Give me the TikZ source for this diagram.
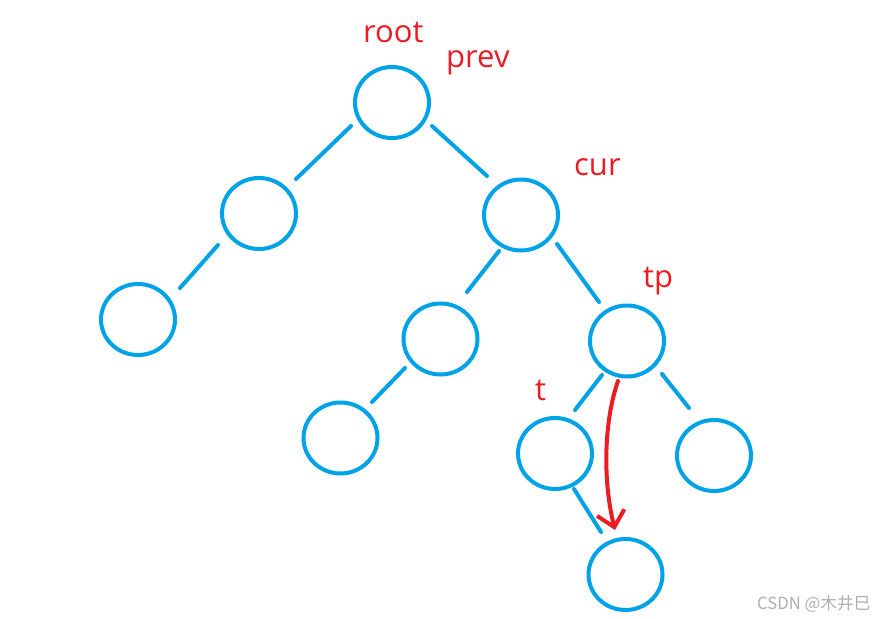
\documentclass[tikz,border=0pt]{standalone}
\usepackage{fontspec}
\setmainfont{Open Sans}
\newfontfamily\cjk{Noto Sans CJK SC}
\usetikzlibrary{shapes.geometric,arrows.meta,calc}
\definecolor{pblue}{RGB}{0,162,232}
\definecolor{pred}{RGB}{237,28,36}
\definecolor{wgray}{RGB}{175,175,175}
\tikzset{
  tnode/.style={ellipse,draw=pblue,line width=4pt,minimum width=74pt,minimum height=71pt,inner sep=0pt},
  edge/.style={draw=pblue,line width=4pt,line cap=round},
  lbl/.style={text=pred,anchor=base west,inner sep=0pt,font=\fontsize{31}{31}\selectfont},
  ptr/.style={draw=pred,line width=4pt,line cap=round,-{Straight Barb[length=15pt,width=28pt,line width=4pt]}}
}
\begin{document}
\begin{tikzpicture}[x=1pt,y=-1pt]
\useasboundingbox[fill=white] (0,0) rectangle (874,618);
\node[tnode] (root) at (392,102.5) {};
\node[tnode] (l) at (259,213.5) {};
\node[tnode] (ll) at (138,319.5) {};
\node[tnode] (cur) at (521,215) {};
\node[tnode] (cl) at (440.5,339) {};
\node[tnode] (cll) at (340.5,438) {};
\node[tnode] (tp) at (627,341) {};
\node[tnode] (t) at (555,453.5) {};
\node[tnode] (r) at (714,455.5) {};
\node[tnode] (b) at (625.5,574.5) {};
\draw[edge] ([shift={(-41,23.5)}]root.center) -- ([shift={(37,-34.5)}]l.center);
\draw[edge] ([shift={(40,23.5)}]root.center) -- ([shift={(-34,-39)}]cur.center);
\draw[edge] ([shift={(-41,31.5)}]l.center) -- ([shift={(42,-31.5)}]ll.center);
\draw[edge] ([shift={(-22,36)}]cur.center) -- ([shift={(26.5,-47)}]cl.center);
\draw[edge] ([shift={(36,29)}]cur.center) -- ([shift={(-28,-39)}]tp.center);
\draw[edge] ([shift={(-35.5,29)}]cl.center) -- ([shift={(31.5,-36)}]cll.center);
\draw[edge] ([shift={(-25,34)}]tp.center) -- ([shift={(20,-43.5)}]t.center);
\draw[edge] ([shift={(35,33)}]tp.center) -- ([shift={(-25,-47.5)}]r.center);
\draw[edge] ([shift={(19,35.5)}]t.center) -- ([shift={(-24.5,-42.5)}]b.center);
\draw[ptr] ([shift={(-9,40)}]tp.center) .. controls ([shift={(-23,80)}]tp.center) and ([shift={(-23,-95)}]b.center) .. ([shift={(-10.5,-44.5)}]b.center);
\node[lbl] (lroot) at (363,42) {root};
\node[lbl] (lprev) at (446,67) {prev};
\node[lbl] (lcur) at (574,175) {cur};
\node[lbl] (ltp) at (643,287) {tp};
\node[lbl] (lt) at (535,400) {t};
\node[text=wgray,anchor=base west,inner sep=0pt,font=\cjk\fontsize{16.7}{16.7}\selectfont] (wm) at (757,609) {CSDN @木井巳};
\end{tikzpicture}
\end{document}
